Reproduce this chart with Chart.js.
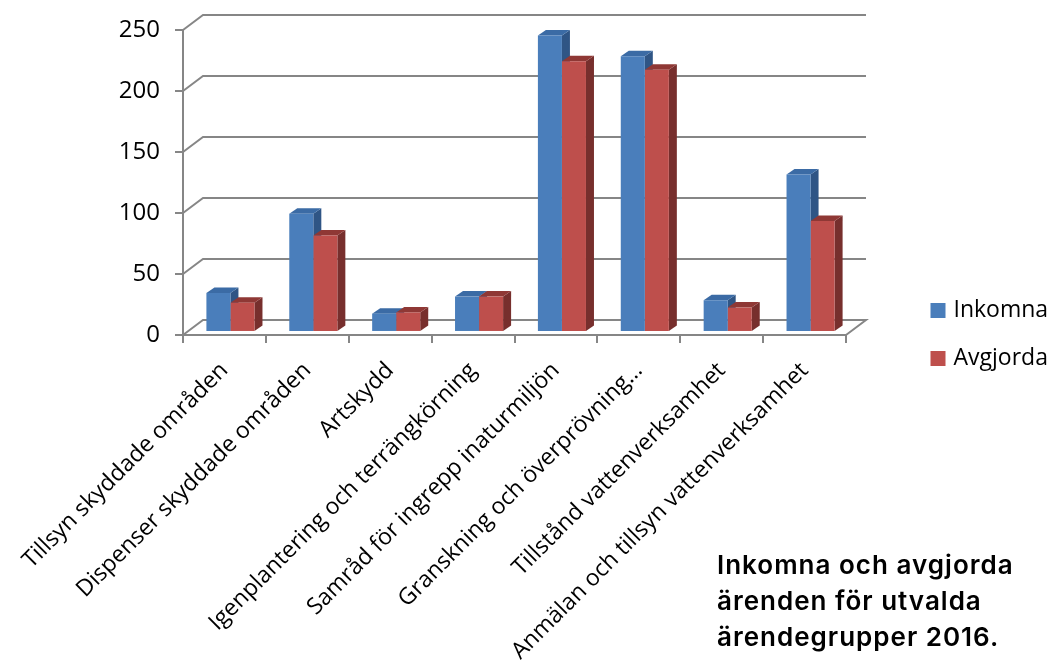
<!DOCTYPE html>
<html><head><meta charset="utf-8">
<style>html,body{margin:0;padding:0;background:#fff}canvas{display:block}</style>
<script src="https://cdn.jsdelivr.net/npm/chart.js@4"></script>
</head><body><canvas id="c" width="1050" height="662"></canvas>
<script>
const categories = ["Tillsyn skyddade områden","Dispenser skyddade områden","Artskydd","Igenplantering och terrängkörning","Samråd för ingrepp inaturmiljön","Granskning och överprövning…","Tillstånd vattenverksamhet","Anmälan och tillsyn vattenverksamhet"];
const inkomna = [32,97,15,29,243,226,26,129];
const avgjorda = [24,79,16,29,222,215,20,91];
const titleLines = ["Inkomna och avgjorda","ärenden för utvalda","ärendegrupper 2016."];
const FONT = "'Open Sans', sans-serif";

const depth3d = {
  id:'depth3d',
  afterLayout(chart){
    const l = chart.legend; l.left=909; l.right=1060; l.top=274; l.bottom=662;
    const t = chart.titleBlock; t.left=717; t.right=1050; t.top=548; t.bottom=662;
    if(!t._spaced){
      const d=t.draw; t._spaced=true;
      t.draw=function(a){chart.ctx.letterSpacing='1px'; d.call(this,a); chart.ctx.letterSpacing='0px';};
    }
    chart.scales.x.bottom=662;
  },
  beforeDatasetsDraw(chart){
    const c = chart.ctx, x = chart.scales.x, y = chart.scales.y;
    c.save(); c.strokeStyle='#868686'; c.lineWidth=2;
    y.ticks.forEach(t=>{
      const p = y.getPixelForValue(t.value);
      c.beginPath(); c.moveTo(x.left,p); c.lineTo(x.left+20,p-15); c.lineTo(x.right+20,p-15);
      if(t.value===0) c.lineTo(x.right,p);
      c.stroke();
    });
    c.restore();
    c.save(); c.translate(6,-3);
    const dx=8, dy=5.5;
    const cols=[['#2f5585','#3b6ba5'],['#772f2d','#8f3835']];
    chart.data.datasets.forEach((d,i)=>{
      chart.getDatasetMeta(i).data.forEach(b=>{
        const l=b.x-b.width/2, r=b.x+b.width/2, tp=b.y, bt=b.base;
        c.fillStyle=cols[i][0];
        c.beginPath(); c.moveTo(r,bt); c.lineTo(r+dx,bt-dy); c.lineTo(r+dx,tp-dy); c.lineTo(r,tp); c.closePath(); c.fill();
        c.fillStyle=cols[i][1];
        c.beginPath(); c.moveTo(l,tp); c.lineTo(l+dx,tp-dy); c.lineTo(r+dx,tp-dy); c.lineTo(r,tp); c.closePath(); c.fill();
      });
    });
  },
  afterDatasetsDraw(chart){ chart.ctx.restore(); }
};

new Chart(document.getElementById('c'),{
  type:'bar',
  plugins:[depth3d],
  data:{labels:categories,datasets:[
    {label:'Inkomna',data:inkomna,backgroundColor:'#4a7ebb',borderWidth:0,categoryPercentage:0.58,barPercentage:1},
    {label:'Avgjorda',data:avgjorda,backgroundColor:'#be4f4c',borderWidth:0,categoryPercentage:0.58,barPercentage:1}
  ]},
  options:{
    responsive:false,animation:false,devicePixelRatio:1,
    layout:{padding:{left:0,top:30,right:204,bottom:0}},
    plugins:{
      tooltip:{enabled:false},
      legend:{position:'chartArea',align:'start',labels:{
        color:'#000',font:{family:FONT,size:23},boxWidth:8,boxHeight:8,padding:25,
        generateLabels:ch=>Chart.defaults.plugins.legend.labels.generateLabels(ch).map(l=>({...l,strokeStyle:l.fillStyle,lineWidth:7}))
      }},
      title:{display:true,text:titleLines,position:'bottom',align:'start',color:'#000',padding:0,
        font:{family:"Inter, sans-serif",size:26,weight:'600',lineHeight:1.385}}
    },
    scales:{
      x:{
        afterFit(s){s.height=327-108;},
        grid:{drawOnChartArea:false,color:'#868686',lineWidth:2,tickLength:8,tickColor:'#868686'},
        border:{color:'#868686',width:2},
        ticks:{color:'#000',autoSkip:false,minRotation:45,maxRotation:45,padding:14,font:{family:FONT,size:23}}
      },
      y:{
        min:0,max:250,
        afterFit(s){s.width=183;},
        grid:{drawOnChartArea:false,color:'#868686',lineWidth:2,tickLength:8,tickColor:'#868686'},
        border:{color:'#868686',width:2},
        ticks:{color:'#000',stepSize:50,padding:15,font:{family:FONT,size:24}}
      }
    }
  }
});
</script></body></html>
